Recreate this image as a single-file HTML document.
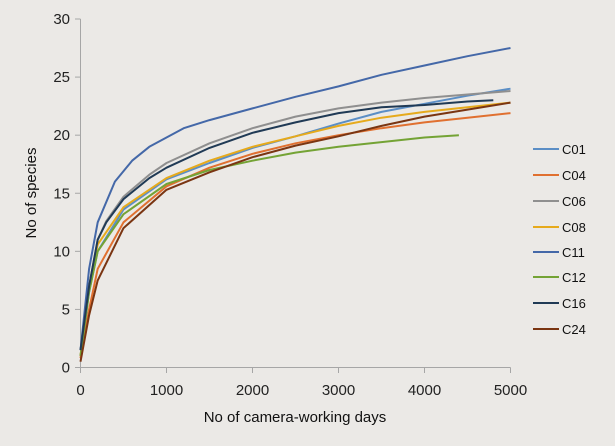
<!DOCTYPE html>
<html><head><meta charset="utf-8"><style>
body{margin:0;background:#ebe9e6;}
svg{display:block;font-family:"Liberation Sans",sans-serif;}
</style></head><body>
<svg id="s" width="615" height="446" viewBox="0 0 615 446">
<rect width="615" height="446" fill="#ebe9e6"/>
<g stroke="#a6a6a6" stroke-width="1" fill="none">
<line x1="80.5" y1="19" x2="80.5" y2="367.5"/>
<line x1="80.5" y1="367.5" x2="510.5" y2="367.5"/>
</g>
<g id="ticks" stroke="#a6a6a6"></g>
<g id="lab" font-size="15" fill="#222"></g>
<text x="295" y="422" font-size="15" fill="#111" text-anchor="middle">No of camera-working days</text>
<text transform="translate(36,193) rotate(-90)" font-size="15" fill="#111" text-anchor="middle">No of species</text>
<g id="series" fill="none" stroke-width="2" stroke-linejoin="round"></g>
<g id="leg" font-size="13" fill="#111"></g>
</svg>
<script>
var NS="http://www.w3.org/2000/svg";
function X(d){return 80.5+d*430/5000;}
function Y(v){return 367.5-v*348.5/30;}
function el(t,a,p,txt){var e=document.createElementNS(NS,t);for(var k in a)e.setAttribute(k,a[k]);if(txt!=null)e.textContent=txt;document.getElementById(p).appendChild(e);}
for(var v=0;v<=30;v+=5){var y=Y(v);el('line',{x1:75,x2:80.5,y1:y,y2:y},'ticks');el('text',{x:70,y:y+5,'text-anchor':'end'},'lab',v);}
for(var d=0;d<=5000;d+=1000){var x=X(d);el('line',{x1:x,x2:x,y1:367.5,y2:373},'ticks');el('text',{x:x,y:395,'text-anchor':'middle'},'lab',d);}
var S=[
["C01","#5b8ec5",[[0,1],[100,6.5],[200,10],[500,13.6],[1000,16.2],[1500,17.6],[2000,18.9],[2500,19.9],[3000,21],[3500,22],[4000,22.7],[4500,23.4],[5000,24]]],
["C04","#e07030",[[0,0.8],[100,5],[200,8.5],[500,12.5],[1000,15.6],[1500,17.2],[2000,18.4],[2500,19.3],[3000,20],[3500,20.6],[4000,21.1],[4500,21.5],[5000,21.9]]],
["C06","#8f8f8f",[[0,1.5],[100,7],[200,11],[300,12.6],[500,14.7],[800,16.6],[1000,17.6],[1500,19.3],[2000,20.6],[2500,21.6],[3000,22.3],[3500,22.8],[4000,23.2],[4500,23.5],[5000,23.8]]],
["C08","#e6aa1c",[[0,1],[100,7],[200,10.6],[500,13.8],[1000,16.3],[1500,17.8],[2000,19],[2500,19.9],[3000,20.8],[3500,21.5],[4000,22],[4500,22.4],[5000,22.8]]],
["C11","#4468a8",[[0,1.5],[100,8.5],[200,12.5],[400,16],[600,17.8],[800,19],[1000,19.8],[1200,20.6],[1500,21.3],[2000,22.3],[2500,23.3],[3000,24.2],[3500,25.2],[4000,26],[4500,26.8],[5000,27.5]]],
["C12","#74a335",[[0,1],[100,6.5],[200,10],[500,13.2],[1000,15.8],[1500,17],[2000,17.8],[2500,18.5],[3000,19],[3500,19.4],[4000,19.8],[4400,20]]],
["C16","#203a55",[[0,1.5],[100,7],[200,11],[300,12.5],[500,14.5],[800,16.3],[1000,17.2],[1500,18.9],[2000,20.2],[2500,21.1],[3000,21.9],[3500,22.4],[4000,22.6],[4500,22.9],[4800,23]]],
["C24","#7a3512",[[0,0.5],[100,4.5],[200,7.5],[500,12],[1000,15.3],[1500,16.8],[2000,18.1],[2500,19.1],[3000,19.9],[3500,20.8],[4000,21.6],[4500,22.2],[5000,22.8]]]
];
var ly=[149,175,201,227,252,277,303,329];
S.forEach(function(s,i){
 var pts=s[2].map(function(p){return X(p[0]).toFixed(1)+","+Y(p[1]).toFixed(1);}).join(" ");
 el('polyline',{points:pts,stroke:s[1]},'series');
 el('line',{x1:533,x2:559,y1:ly[i],y2:ly[i],stroke:s[1],'stroke-width':2},'leg');
 el('text',{x:562,y:ly[i]+5},'leg',s[0]);
});
</script>
</body></html>
